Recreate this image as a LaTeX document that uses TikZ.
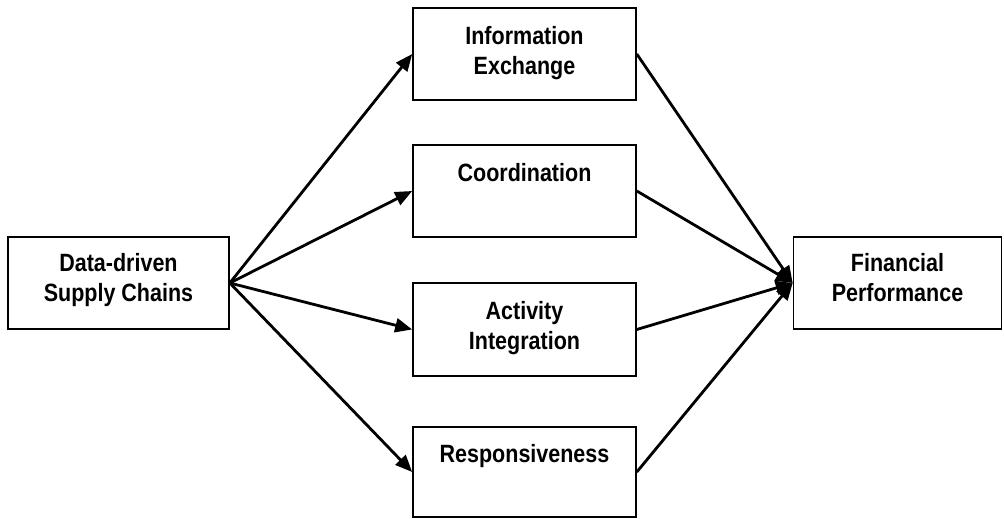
\documentclass[tikz,border=0pt]{standalone}
\usepackage{fontspec}
\newfontfamily\boxfont[FakeStretch=0.86]{Liberation Sans}
\usetikzlibrary{arrows.meta}
\tikzset{
  box/.style={draw, line width=1.6pt, minimum height=92pt, inner sep=0pt},
  lbl/.style={font=\boxfont\bfseries\fontsize{25}{30}\selectfont, align=center, anchor=north, inner sep=0pt},
  conn/.style={line width=2.8pt, -{Triangle[length=17pt,width=14pt]}},
}
\begin{document}
\begin{tikzpicture}[x=1pt,y=-1pt]
\useasboundingbox (0,0) rectangle (1004,519);
\node[box, minimum width=221pt] (ds) at (118.5,283) {};
\node[box, minimum width=223pt] (ie) at (524.5,54) {};
\node[box, minimum width=223pt] (co) at (524.5,191) {};
\node[box, minimum width=223pt, minimum height=93pt] (ai) at (524.5,329.5) {};
\node[box, minimum width=223pt, minimum height=90pt] (re) at (524.5,472) {};
\node[box, minimum width=208pt] (fp) at (897.5,283) {};

\node[lbl] (tds) at ([yshift=-16.5pt]ds.north) {\vphantom{Ad}Data-driven\\Supply Chains};
\node[lbl] (tie) at ([yshift=-18.5pt]ie.north) {\vphantom{Ad}Information\\Exchange};
\node[lbl] (tco) at ([yshift=-18.5pt]co.north) {\vphantom{Ad}Coordination};
\node[lbl] (tai) at ([yshift=-18.5pt]ai.north) {\vphantom{Ad}Activity\\Integration};
\node[lbl] (tre) at ([yshift=-17.5pt]re.north) {\vphantom{Ad}Responsiveness};
\node[lbl] (tfp) at ([yshift=-16.5pt]fp.north) {\vphantom{Ad}Financial\\Performance};

\foreach \m in {ie,co,ai,re}{
  \draw[conn] (ds.east) -- (\m.west);
  \draw[conn] (\m.east) -- (fp.west);
}
\end{tikzpicture}
\end{document}
